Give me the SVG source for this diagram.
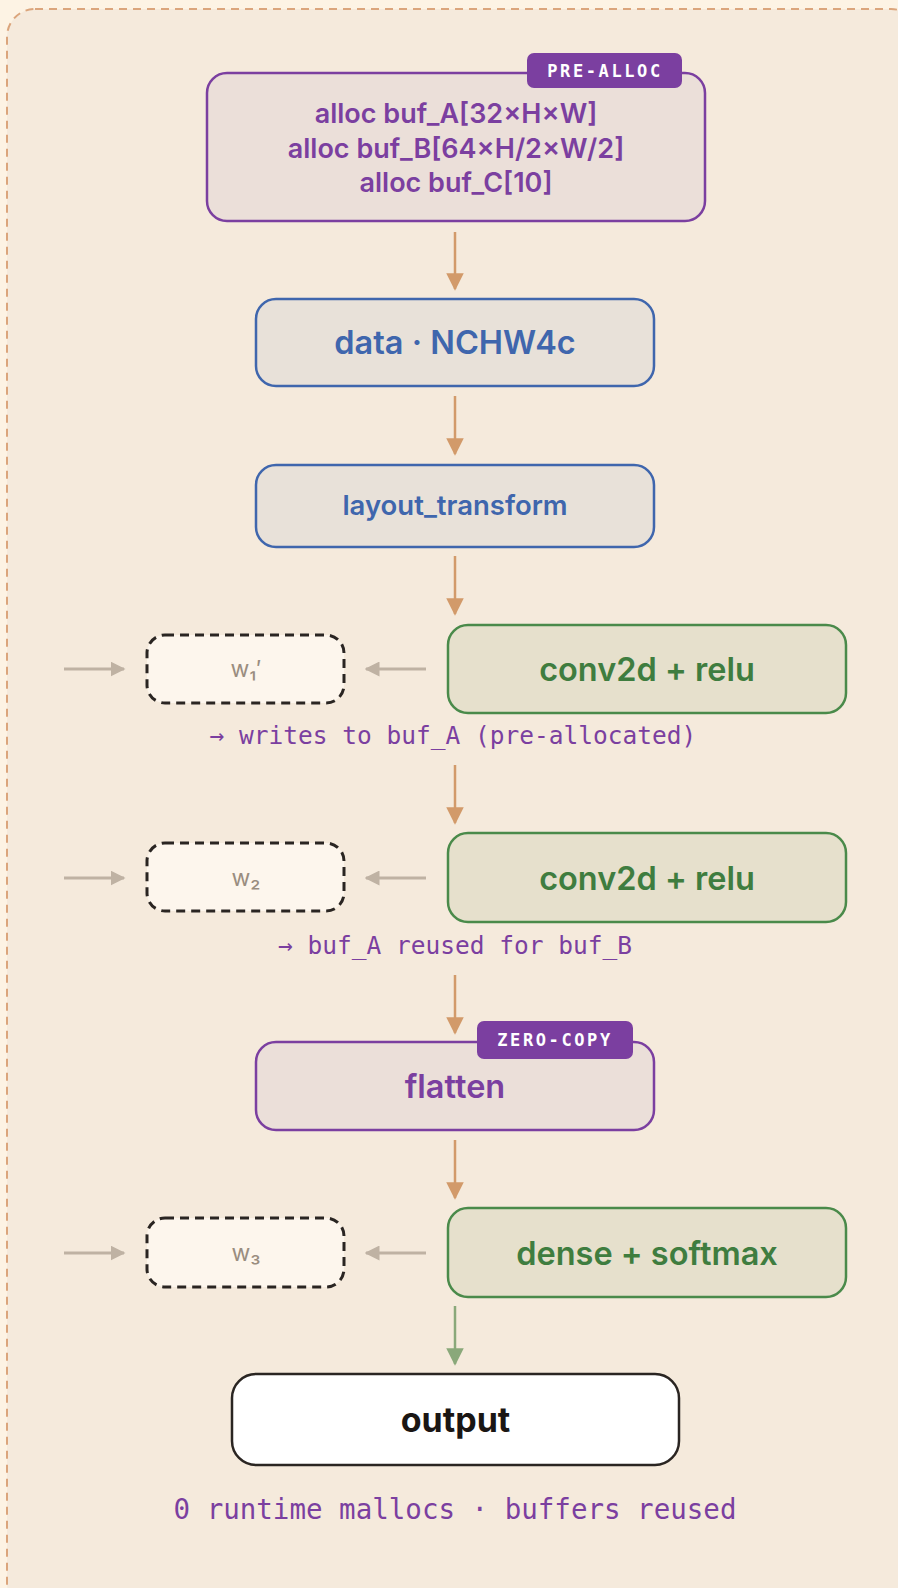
<svg xmlns="http://www.w3.org/2000/svg" width="898" height="1588" viewBox="0 0 898 1588">
  <style>
    .sans { font-family: Inter, "Noto Sans", "Liberation Sans", sans-serif; }
    .mono { font-family: "DejaVu Sans Mono", "Liberation Mono", monospace; }
    .purple-box { fill: #ebdfd9; stroke: #7b3fa0; stroke-width: 2.5; }
    .blue-box { fill: #e8e1d9; stroke: #3f66ad; stroke-width: 2.5; }
    .green-box { fill: #e6e0cc; stroke: #4a8a4a; stroke-width: 2.5; }
    .weight-box { fill: #fdf6ed; stroke: #2a2522; stroke-width: 3; stroke-dasharray: 9 6; }
    .out-box { fill: #ffffff; stroke: #2a2522; stroke-width: 2.5; }
    .badge { fill: #7b3fa0; }
    .badge-text { fill: #ffffff; font-weight: 700; font-size: 17px; letter-spacing: 2.6px; }
    .lbl { font-weight: 600; text-anchor: middle; }
    .flow { stroke: #d29a6a; stroke-width: 2.5; fill: none; marker-end: url(#ah-tan); }
    .flow-out { stroke: #8aa87a; stroke-width: 2.5; fill: none; marker-end: url(#ah-green); }
    .side { stroke: #bfb2a3; stroke-width: 3; fill: none; marker-end: url(#ah-gray); }
    .note { fill: #7b3fa0; text-anchor: middle; }
    .wlbl { fill: #9a8d80; text-anchor: middle; font-size: 23px; }
  </style>
  <defs>
    <marker id="ah-tan" viewBox="0 0 10 10" refX="9" refY="5" markerWidth="7" markerHeight="7" markerUnits="strokeWidth" orient="auto">
      <path d="M0,0 L10,5 L0,10 z" fill="#d29a6a"/>
    </marker>
    <marker id="ah-green" viewBox="0 0 10 10" refX="9" refY="5" markerWidth="7" markerHeight="7" markerUnits="strokeWidth" orient="auto">
      <path d="M0,0 L10,5 L0,10 z" fill="#8aa87a"/>
    </marker>
    <marker id="ah-gray" viewBox="0 0 10 10" refX="9" refY="5" markerWidth="5" markerHeight="5" markerUnits="strokeWidth" orient="auto">
      <path d="M0,0 L10,5 L0,10 z" fill="#bfb2a3"/>
    </marker>
  </defs>

  <!-- page background and dashed frame -->
  <rect x="0" y="0" width="898" height="1588" fill="#fdf3e4"/>
  <rect x="7" y="9" width="912" height="1602" rx="28" fill="#f5eadc" stroke="#dba57c" stroke-width="2" stroke-dasharray="8 6"/>

  <!-- connectors -->
  <g id="connectors">
    <line class="flow" x1="455" y1="232" x2="455" y2="289"/>
    <line class="flow" x1="455" y1="396" x2="455" y2="454"/>
    <line class="flow" x1="455" y1="556" x2="455" y2="614"/>
    <line class="flow" x1="455" y1="765" x2="455" y2="823"/>
    <line class="flow" x1="455" y1="975" x2="455" y2="1033"/>
    <line class="flow" x1="455" y1="1140" x2="455" y2="1198"/>
    <line class="flow-out" x1="455" y1="1306" x2="455" y2="1364"/>
    <!-- weight side arrows -->
    <line class="side" x1="64" y1="669" x2="124" y2="669"/>
    <line class="side" x1="426" y1="669" x2="366" y2="669"/>
    <line class="side" x1="64" y1="878" x2="124" y2="878"/>
    <line class="side" x1="426" y1="878" x2="366" y2="878"/>
    <line class="side" x1="64" y1="1253" x2="124" y2="1253"/>
    <line class="side" x1="426" y1="1253" x2="366" y2="1253"/>
  </g>

  <!-- pre-allocation block -->
  <g id="prealloc">
    <rect class="purple-box" x="207" y="73" width="498" height="148" rx="20"/>
    <rect class="badge" x="527" y="53" width="155" height="35" rx="7"/>
    <text class="mono badge-text" x="605" y="77" text-anchor="middle">PRE-ALLOC</text>
    <g class="sans lbl" fill="#7b3fa0" font-size="27" font-weight="500">
      <text x="456" y="123">alloc buf_A[32×H×W]</text>
      <text x="456" y="158">alloc buf_B[64×H/2×W/2]</text>
      <text x="456" y="192">alloc buf_C[10]</text>
    </g>
  </g>

  <g id="data">
    <rect class="blue-box" x="256" y="299" width="398" height="87" rx="20"/>
    <text class="sans lbl" x="455" y="354" font-size="32.5" fill="#3f66ad">data · NCHW4c</text>
  </g>

  <g id="layout_transform">
    <rect class="blue-box" x="256" y="465" width="398" height="82" rx="20"/>
    <text class="sans lbl" x="455" y="515" font-size="27.5" fill="#3f66ad">layout_transform</text>
  </g>

  <g id="conv1">
    <rect class="green-box" x="448" y="625" width="398" height="88" rx="20"/>
    <text class="sans lbl" x="647" y="681" font-size="32.5" fill="#3f7d3f">conv2d + relu</text>
  </g>
  <g id="w1">
    <rect class="weight-box" x="147" y="635" width="197" height="68" rx="18"/>
    <text class="sans wlbl" x="246" y="677">w₁′</text>
  </g>
  <text id="note1" class="mono note" x="453" y="744" font-size="24.5">→ writes to buf_A (pre-allocated)</text>

  <g id="conv2">
    <rect class="green-box" x="448" y="833" width="398" height="89" rx="20"/>
    <text class="sans lbl" x="647" y="890" font-size="32.5" fill="#3f7d3f">conv2d + relu</text>
  </g>
  <g id="w2">
    <rect class="weight-box" x="147" y="843" width="197" height="68" rx="18"/>
    <text class="sans wlbl" x="246" y="886">w₂</text>
  </g>
  <text id="note2" class="mono note" x="455" y="954" font-size="24.5">→ buf_A reused for buf_B</text>

  <g id="flatten">
    <rect class="purple-box" x="256" y="1042" width="398" height="88" rx="20"/>
    <rect class="badge" x="477" y="1021" width="156" height="38" rx="7"/>
    <text class="mono badge-text" x="555" y="1046" text-anchor="middle">ZERO-COPY</text>
    <text class="sans lbl" x="455" y="1098" font-size="32.5" fill="#7b3fa0">flatten</text>
  </g>

  <g id="dense">
    <rect class="green-box" x="448" y="1208" width="398" height="89" rx="20"/>
    <text class="sans lbl" x="647" y="1265" font-size="32.5" fill="#3f7d3f">dense + softmax</text>
  </g>
  <g id="w3">
    <rect class="weight-box" x="147" y="1218" width="197" height="69" rx="18"/>
    <text class="sans wlbl" x="246" y="1261">w₃</text>
  </g>

  <g id="output">
    <rect class="out-box" x="232" y="1374" width="447" height="91" rx="24"/>
    <text class="sans" x="455.5" y="1432" font-size="34" font-weight="700" fill="#1a1614" text-anchor="middle">output</text>
  </g>

  <text id="footer" class="mono note" x="455" y="1519" font-size="27.5">0 runtime mallocs · buffers reused</text>
</svg>
